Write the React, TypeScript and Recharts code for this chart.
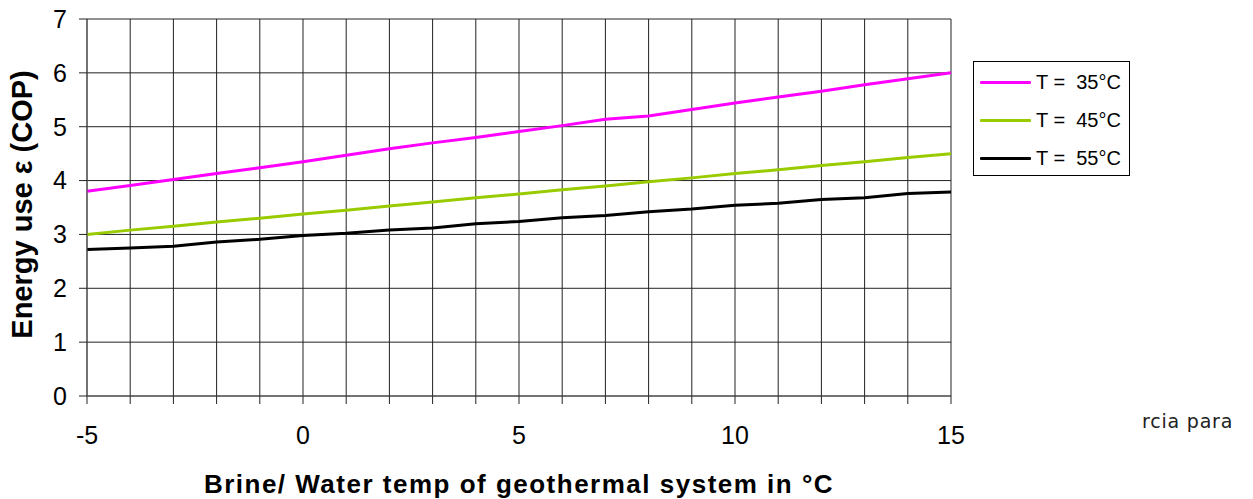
import { LineChart, Line, XAxis, YAxis, CartesianGrid, Legend } from "recharts";

const temps = [-5, -4, -3, -2, -1, 0, 1, 2, 3, 4, 5, 6, 7, 8, 9, 10, 11, 12, 13, 14, 15];
const cop35 = [3.8, 3.91, 4.02, 4.13, 4.24, 4.35, 4.47, 4.59, 4.7, 4.8, 4.91, 5.02, 5.14, 5.2, 5.32, 5.44, 5.55, 5.66, 5.78, 5.89, 6.0];
const cop45 = [3.0, 3.08, 3.15, 3.23, 3.3, 3.38, 3.45, 3.53, 3.6, 3.68, 3.75, 3.83, 3.9, 3.98, 4.05, 4.13, 4.2, 4.28, 4.35, 4.43, 4.5];
const cop55 = [2.72, 2.75, 2.78, 2.86, 2.91, 2.98, 3.02, 3.08, 3.12, 3.2, 3.24, 3.31, 3.35, 3.42, 3.47, 3.54, 3.58, 3.65, 3.68, 3.76, 3.79];
const yTicks = [0, 1, 2, 3, 4, 5, 6, 7];

const data = temps.map((t, i) => ({
  t,
  a: cop35[i],
  b: cop45[i],
  c: cop55[i],
}));

const font = "'Liberation Sans', Arial, sans-serif";

const LegendBox = ({ payload }: any) => (
  <div
    style={{
      border: "1px solid #000",
      background: "#fff",
      width: 155,
      height: 112,
      paddingTop: 1,
      fontFamily: font,
      fontSize: 20,
      color: "#000",
    }}
  >
    {(payload || []).map((p: any) => (
      <div key={p.value} style={{ height: 38, display: "flex", alignItems: "center" }}>
        <span
          style={{
            display: "inline-block",
            width: 51,
            height: 3,
            marginLeft: 6,
            marginRight: 5,
            background: p.color,
            borderRadius: 1,
          }}
        />
        <span style={{ whiteSpace: "pre" }}>{p.value}</span>
      </div>
    ))}
  </div>
);

const App = () => {
  return (
    <div style={{ position: "absolute", left: 0, top: 0, width: 1253, height: 499, background: "#fff" }}>
      <LineChart
        width={1253}
        height={499}
        data={data}
        margin={{ top: 19, right: 302, bottom: 0, left: 0 }}
      >
        <CartesianGrid stroke="#222" strokeWidth={1} />
        <XAxis
          dataKey="t"
          type="number"
          domain={[-5, 15]}
          ticks={temps}
          interval={0}
          tickFormatter={(v) => (v % 5 === 0 ? String(v) : "")}
          height={103}
          stroke="#555"
          tickSize={8}
          tickMargin={22}
          tick={{ fill: "#000", fontSize: 25, fontFamily: font }}
          tickLine={{ stroke: "#222" }}
          label={{
            value: "Brine/ Water temp of geothermal system in °C",
            position: "insideBottom",
            offset: 6,
            style: { fontFamily: font, fontSize: 26, fontWeight: "bold", fill: "#000", letterSpacing: 1.5 },
          }}
        />
        <YAxis
          type="number"
          domain={[0, 7]}
          ticks={yTicks}
          width={87}
          stroke="#555"
          tickSize={8}
          tickMargin={12}
          tick={{ fill: "#000", fontSize: 25, fontFamily: font }}
          tickLine={{ stroke: "#222" }}
          label={{
            value: "Energy use ε (COP)",
            angle: -90,
            position: "insideLeft",
            offset: 22,
            dy: -3,
            style: { textAnchor: "middle", fontFamily: font, fontSize: 29, fontWeight: "bold", fill: "#000" },
          }}
        />
        <Legend
          layout="horizontal"
          align="center"
          verticalAlign="middle"
          wrapperStyle={{ left: 973, top: 61, width: 157, height: 114 }}
          content={<LegendBox />}
        />
        <Line type="linear" dataKey="a" name="T =  35°C" stroke="#ff00ff" strokeWidth={3} dot={false} isAnimationActive={false} />
        <Line type="linear" dataKey="b" name="T =  45°C" stroke="#99cc00" strokeWidth={3} dot={false} isAnimationActive={false} />
        <Line type="linear" dataKey="c" name="T =  55°C" stroke="#000000" strokeWidth={3} dot={false} isAnimationActive={false} />
      </LineChart>
      <div
        style={{
          position: "absolute",
          left: 1142,
          top: 410,
          fontFamily: "'DejaVu Sans', sans-serif",
          fontSize: 19,
          letterSpacing: 0.8,
          color: "#222",
          whiteSpace: "pre",
        }}
      >
        rcia para
      </div>
    </div>
  );
};

export default App;
